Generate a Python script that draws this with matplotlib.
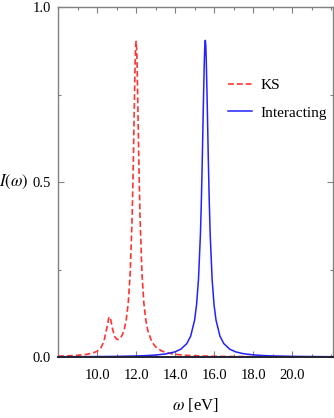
"""
Absorption spectrum I(w): KS vs interacting response.
"""
import numpy as np
import matplotlib
matplotlib.use('Agg')
import matplotlib.pyplot as plt
from matplotlib.ticker import MultipleLocator, FixedLocator

plt.rcParams['font.family'] = ['Liberation Serif', 'DejaVu Serif']
plt.rcParams['mathtext.fontset'] = 'stix'

# ---------------------------------------------------------------------------
# Data
# ---------------------------------------------------------------------------
ks_w = [8.0, 8.5, 9.0, 9.5, 9.8, 10.0, 10.2, 10.35, 10.5, 10.6, 10.65, 10.7,
        10.8, 10.9, 11.0, 11.1, 11.2, 11.3, 11.4, 11.5, 11.6, 11.7, 11.8,
        11.85, 11.9, 11.95, 11.975, 12.0, 12.025, 12.05, 12.1, 12.15, 12.2,
        12.3, 12.4, 12.5, 12.6, 12.8, 13.0, 13.3, 13.6, 14.0, 14.5, 15.0,
        16.0, 17.0, 18.0, 19.0, 20.0, 21.0, 22.1]
ks_I = [0.0024, 0.0032, 0.0047, 0.0077, 0.0115, 0.0164, 0.0267, 0.0444,
        0.0831, 0.1124, 0.1147, 0.1060, 0.0779, 0.0589, 0.0508, 0.0500,
        0.0543, 0.0640, 0.0806, 0.1083, 0.1557, 0.2416, 0.4056, 0.5337,
        0.6901, 0.8378, 0.8850, 0.9021, 0.8850, 0.8375, 0.6896, 0.5329,
        0.4045, 0.2398, 0.1530, 0.1046, 0.0755, 0.0442, 0.0290, 0.0175,
        0.0117, 0.0076, 0.0049, 0.0034, 0.0020, 0.0013, 0.0009, 0.0007,
        0.0005, 0.0004, 0.0003]

int_w = [8.0, 9.0, 10.0, 11.0, 12.0, 12.5, 13.0, 13.5, 14.0, 14.3, 14.6,
         14.8, 15.0, 15.1, 15.2, 15.3, 15.35, 15.4, 15.45, 15.5, 15.525,
         15.55, 15.575, 15.6, 15.65, 15.7, 15.75, 15.8, 15.9, 16.0, 16.1,
         16.3, 16.5, 16.8, 17.1, 17.5, 18.0, 18.5, 19.0, 20.0, 21.0, 22.1]
int_I = [0.0006, 0.0008, 0.0012, 0.0017, 0.0029, 0.0039, 0.0055, 0.0085,
         0.0147, 0.0225, 0.0382, 0.0598, 0.1051, 0.1485, 0.2215, 0.3512,
         0.4500, 0.5760, 0.7200, 0.8470, 0.8900, 0.9050, 0.8900, 0.8470,
         0.7200, 0.5760, 0.4500, 0.3512, 0.2215, 0.1485, 0.1051, 0.0598,
         0.0382, 0.0225, 0.0147, 0.0094, 0.0060, 0.0041, 0.0030, 0.0018,
         0.0012, 0.0008]

x_major = [10.0, 12.0, 14.0, 16.0, 18.0, 20.0]
x_labels = ['10.0', '12.0', '14.0', '16.0', '18.0', '20.0']
y_major = [0.0, 0.5, 1.0]
y_labels = ['0.0', '0.5', '1.0']

RED  = '#ff3333'
BLUE = '#2222ff'
GREY = '#808080'

# ---------------------------------------------------------------------------
# Plot
# ---------------------------------------------------------------------------
fig = plt.figure(figsize=(3.34, 4.18), dpi=100)
ax = fig.add_axes([0.174, 0.146, 0.823, 0.837])

ax.plot(ks_w, ks_I, color=RED, lw=1.2, dashes=(3.5, 1.8), label='KS')
ax.plot(int_w, int_I, color=BLUE, lw=1.1, label='Interacting')

ax.set_xlim(8.0, 22.1)
ax.set_ylim(0.0, 1.0)

ax.xaxis.set_major_locator(FixedLocator(x_major))
ax.set_xticklabels(x_labels)
ax.xaxis.set_minor_locator(MultipleLocator(1.0))
ax.yaxis.set_major_locator(FixedLocator(y_major))
ax.set_yticklabels(y_labels)
ax.yaxis.set_minor_locator(MultipleLocator(0.25))

ax.tick_params(which='both', direction='in', top=True, right=True,
               color=GREY, labelsize=10.5, pad=5)
ax.tick_params(axis='x', which='both', pad=9)
ax.tick_params(which='major', length=4, width=0.8)
ax.tick_params(which='minor', length=2, width=0.8)
for s in ax.spines.values():
    s.set_color(GREY)
    s.set_linewidth(1.0)
ax.spines['bottom'].set_color('#222233')
ax.spines['bottom'].set_linewidth(1.4)

ax.set_xlabel(r'$\omega$ [eV]', fontsize=12, labelpad=10)
ax.set_ylabel(r'$I(\omega)$', fontsize=12, rotation=0, labelpad=14,
              va='center')

ax.legend(loc='upper left', bbox_to_anchor=(0.618, 0.796), frameon=False,
          borderpad=0, borderaxespad=0,
          fontsize=11, handlelength=1.6, handletextpad=0.5, labelspacing=0.9)

plt.savefig('out.png', dpi=100)
